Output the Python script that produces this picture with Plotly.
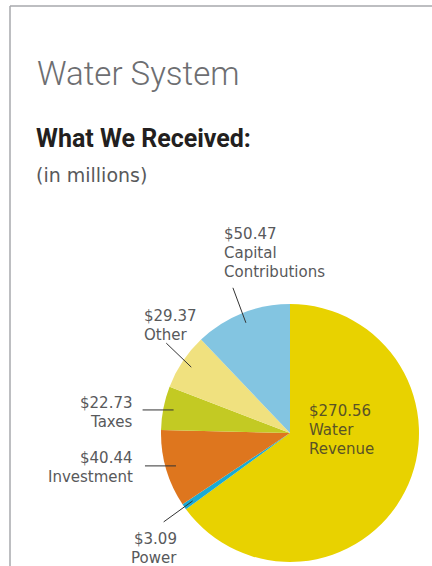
import math
import plotly.graph_objects as go

# ---- data ----
categories = ["Water Revenue", "Power", "Investment", "Taxes", "Other", "Capital Contributions"]
name_lines = [["Water", "Revenue"], ["Power"], ["Investment"], ["Taxes"], ["Other"], ["Capital", "Contributions"]]
values = [270.56, 3.09, 40.44, 22.73, 29.37, 50.47]
colors = ["#E8D200", "#1AAAD4", "#DE761E", "#C3CA23", "#F0E17F", "#83C5E1"]

# ---- layout constants (pixels) ----
W, H = 432, 566
CX, CY, R = 290, 433, 129
LINE_GAP = 19
LABEL_FONT = "DejaVu Sans"
LABEL_SIZE = 15

def px(x):
    return x / W

def py(y):
    return 1 - y / H

# label placement: (anchor x, first line centre y, xanchor)
label_pos = {
    "Water Revenue": (307, 411, "left"),
    "Power": (179, 539, "right"),
    "Investment": (135, 458, "right"),
    "Taxes": (135, 403, "right"),
    "Other": (142, 316, "left"),
    "Capital Contributions": (222, 234, "left"),
}
# leader line offsets from the inner point (None = no leader)
leader_off = {
    "Water Revenue": None,
    "Power": (-29, 21),
    "Investment": (-31, 0),
    "Taxes": (-31, 0),
    "Other": (-25, -24),
    "Capital Contributions": (-13, -35),
}

fig = go.Figure()
fig.add_trace(go.Pie(
    labels=categories,
    values=values,
    sort=False,
    direction="clockwise",
    rotation=0,
    marker=dict(colors=colors, line=dict(width=0)),
    textinfo="none",
    hoverinfo="label+value",
    showlegend=False,
    domain=dict(x=[px(CX - R), px(CX + R)], y=[py(CY + R), py(CY - R)]),
))

total = sum(values)
shapes = []
annotations = []
cum = 0.0
for name, lines, v in zip(categories, name_lines, values):
    mid = (cum + v / 2) / total * 2 * math.pi  # clockwise from top
    cum += v
    ix = CX + 0.92 * R * math.sin(mid)
    iy = CY - 0.92 * R * math.cos(mid)
    off = leader_off[name]
    if off is not None:
        shapes.append(dict(type="line", xref="paper", yref="paper",
                           x0=px(ix), y0=py(iy), x1=px(ix + off[0]), y1=py(iy + off[1]),
                           line=dict(color="#333333", width=1)))
    lx, ly, xa = label_pos[name]
    col = "#5a5326" if name == "Water Revenue" else "#58595b"
    for k, t in enumerate([f"${v:.2f}"] + lines):
        annotations.append(dict(
            text=t, xref="paper", yref="paper",
            x=px(lx), y=py(ly + k * LINE_GAP), xanchor=xa, yanchor="middle",
            showarrow=False, font=dict(family=LABEL_FONT, size=LABEL_SIZE, color=col),
        ))

# headings
annotations += [
    dict(text="Water System", xref="paper", yref="paper", x=px(35), y=py(73),
         xanchor="left", yanchor="middle", showarrow=False,
         font=dict(family="Roboto", size=33, color="#6d6e71", weight=300)),
    dict(text="What We Received:", xref="paper", yref="paper", x=px(34), y=py(139),
         xanchor="left", yanchor="middle", showarrow=False,
         font=dict(family="Roboto", size=25, color="#231f20", weight=700)),
    dict(text="(in millions)", xref="paper", yref="paper", x=px(34), y=py(175),
         xanchor="left", yanchor="middle", showarrow=False,
         font=dict(family=LABEL_FONT, size=19, color="#58595b")),
]

# page frame
shapes += [
    dict(type="line", xref="paper", yref="paper", x0=px(10), y0=py(6), x1=px(W), y1=py(6),
         line=dict(color="#a7a9ac", width=1.5)),
    dict(type="line", xref="paper", yref="paper", x0=px(10), y0=py(6), x1=px(10), y1=py(H),
         line=dict(color="#a7a9ac", width=1.5)),
]

fig.update_layout(
    width=W, height=H,
    margin=dict(l=0, r=0, t=0, b=0),
    paper_bgcolor="white", plot_bgcolor="white",
    shapes=shapes, annotations=annotations,
)

fig.write_html("out.html", config={"displayModeBar": False},
               post_script="document.body.style.margin='0';document.body.style.overflow='hidden';")
